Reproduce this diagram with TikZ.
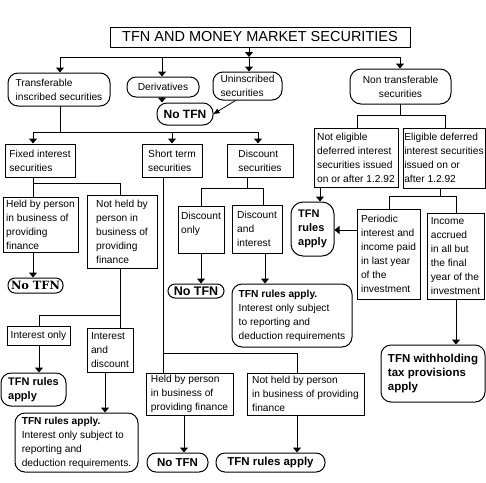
\documentclass[tikz,border=0pt]{standalone}
\usepackage{fontspec}
\setmainfont{Liberation Sans}
\newfontfamily\slabfont{DejaVu Serif}
\usetikzlibrary{arrows.meta}
\newcommand\mybox[6]{%
  \pgfmathsetmacro\bxw{#4-#2}%
  \pgfmathsetmacro\bxh{#5-#3}%
  \node[#6, minimum width=\bxw pt, minimum height=\bxh pt] (#1) at ({(#2+#4)/2},{(#3+#5)/2})}
\begin{document}
\begin{tikzpicture}[x=1pt,y=-1pt,
  base/.style={draw, line width=1pt, inner sep=0pt, align=left, font=\fontsize{10.2}{14}\selectfont},
  rnd/.style={base, rounded corners=#1},
  bld/.style={font=\fontsize{11}{14}\selectfont\bfseries},
  arr/.style={line width=1pt, line cap=rect, -{Triangle[width=8pt,length=5pt]}},
  sarr/.style={line width=0.8pt, -{Triangle[width=5pt,length=6pt]}},
  ln/.style={line width=1pt, line cap=rect}]
\fill[white] (0,0) rectangle (486,482);
\useasboundingbox (0,0) rectangle (486,482);

% ---- nodes ----
\mybox{title}{110}{27}{410}{47}{base, align=center, font=\fontsize{14.5}{17}\selectfont}{TFN AND MONEY MARKET SECURITIES};
\mybox{trans}{8}{73}{110}{106}{rnd=10pt}{Transferable\\inscribed securities};
\mybox{deriv}{127}{77}{199}{97}{rnd=9pt, align=center}{Derivatives};
\mybox{unins}{213}{72}{282}{100}{rnd=10pt}{Uninscribed\\securities};
\mybox{notfnA}{157}{103}{213}{125}{rnd=10pt, font=\fontsize{12}{14}\selectfont\bfseries}{No TFN};
\mybox{nontrans}{350}{69}{451}{104}{rnd=11pt, align=center}{Non transferable\\securities};
\mybox{fixed}{5}{144}{75}{177}{base}{Fixed interest\\securities};
\mybox{short}{142}{144}{202}{177}{base}{Short term\\securities};
\mybox{disc}{227}{144}{293}{177}{base}{Discount\\securities};
\mybox{notelig}{314}{128}{398}{187}{base}{Not eligible\\deferred interest\\securities issued\\on or after 1.2.92};
\mybox{elig}{403}{128}{485}{188}{base}{Eligible deferred\\interest securities\\issued on or\\after 1.2.92};
\mybox{heldA}{3}{197}{78}{252}{base}{Held by person\\in business of\\providing\\finance};
\mybox{notheldA}{87}{195}{157}{268}{base}{Not held by\\person in\\business of\\providing\\finance};
\mybox{notfnB}{8}{278}{63}{293}{rnd=7pt, font=\slabfont\fontsize{11.4}{14}\selectfont\bfseries}{No TFN};
\mybox{disconly}{178}{206}{224}{253}{base}{Discount\\only\\\mbox{}};
\mybox{discint}{232}{205}{282}{253}{base}{Discount\\and\\interest};
\mybox{tfnA}{291}{202}{334}{256}{rnd=12pt, bld}{TFN\\rules\\apply};
\mybox{periodic}{357}{209}{420}{299}{base}{Periodic\\interest and\\income paid\\in last year\\of the\\investment};
\mybox{income}{427}{213}{484}{299}{base}{Income\\accrued\\in all but\\the final\\year of the\\investment};
\mybox{notfnC}{168}{284}{224}{298}{rnd=7pt, font=\fontsize{12.5}{14}\selectfont\bfseries}{No TFN};
\mybox{tfnbigA}{232}{284}{352}{347}{rnd=10pt}{\textbf{TFN rules apply.}\\Interest only subject\\to reporting and\\deduction requirements};
\mybox{intonly}{7}{326}{70}{345}{base}{Interest only};
\mybox{intdisc}{87}{328}{133}{372}{base}{Interest\\and\\discount};
\mybox{tfnB}{1}{373}{66}{406}{rnd=10pt, bld}{TFN rules\\apply};
\mybox{tfnbigB}{15}{413}{138}{472}{rnd=10pt}{\textbf{TFN rules apply.}\\Interest only subject to\\reporting and\\deduction requirements.};
\mybox{tfnwith}{381}{345}{485}{402}{rnd=10pt, font=\fontsize{11.5}{14}\selectfont\bfseries}{TFN withholding\\tax provisions\\apply};
\mybox{heldB}{146}{373}{233}{415}{base}{Held by person\\in business of\\providing finance};
\mybox{notheldB}{247}{373}{364}{415}{base}{Not held by person\\in business of providing\\finance};
\mybox{notfnD}{147}{453}{208}{472}{rnd=9pt, font=\fontsize{11.5}{14}\selectfont\bfseries}{No TFN};
\mybox{tfnC}{216}{453}{325}{472}{rnd=9pt, font=\fontsize{11.5}{14}\selectfont\bfseries}{TFN rules apply};

% ---- top level ----
\coordinate (jT) at (249,57);
\coordinate (jTL) at (60,57);
\coordinate (jTD) at (162,57);
\coordinate (jTR) at (400,57);
\draw[arr] (title.south -| jT) -- (jT);
\draw[ln] (jTL) -- (jTR);
\draw[arr] (jTL) -- (trans.north -| jTL);
\draw[arr] (jTD) -- (deriv.north -| jTD);
\draw[arr] (jT) -- (unins.north -| jT);
\draw[arr] (jTR) -- (nontrans.north -| jTR);
\draw[arr] (deriv.south -| jTD) -- (notfnA.north -| jTD);
\draw[sarr] ([xshift=-12pt]unins.south) -- (notfnA.east);

% ---- transferable branch ----
\coordinate (jA) at (60,132);
\coordinate (jA1) at (33,132);
\coordinate (jA2) at (172,132);
\coordinate (jA3) at (258,132);
\draw[ln] (trans.south -| jA) -- (jA);
\draw[ln] (jA1) -- (jA3);
\draw[arr] (jA1) -- (fixed.north -| jA1);
\draw[arr] (jA2) -- (short.north -| jA2);
\draw[arr] (jA3) -- (disc.north -| jA3);

% fixed interest
\coordinate (jB1) at (33,183);
\coordinate (jB2) at (120,183);
\draw[ln] (fixed.south -| jB1) -- (jB1) -- (jB2) -- (notheldA.north -| jB2);
\draw[ln] (jB1) -- (heldA.north -| jB1);
\draw[arr] (heldA.south -| jB1) -- (notfnB.north -| jB1);
\coordinate (jC1) at (39,315);
\coordinate (jC2) at (120,315);
\draw[ln] (notheldA.south -| jC2) -- (jC2) -- (jC1) -- (intonly.north -| jC1);
\draw[ln] (jC2) -- (intdisc.north -| jC2);
\draw[arr] (intonly.south -| jC1) -- (tfnB.north -| jC1);
\coordinate (xD) at (105,0);
\draw[arr] (intdisc.south -| xD) -- (tfnbigB.north -| xD);

% short term
\coordinate (jE1) at (163,353);
\coordinate (jE2) at (297,353);
\draw[ln] (short.south -| jE1) -- (jE1) -- (jE2) -- (notheldB.north -| jE2);
\draw[ln] (jE1) -- (heldB.north -| jE1);
\coordinate (xF) at (184,0);
\draw[arr] (heldB.south -| xF) -- (notfnD.north -| xF);
\draw[arr] (notheldB.south -| jE2) -- (tfnC.north -| jE2);

% discount
\coordinate (jG) at (247,188);
\coordinate (jG1) at (201,188);
\coordinate (jG2) at (263,188);
\draw[ln] (disc.south -| jG) -- (jG);
\draw[ln] (jG1) -- (jG2);
\draw[ln] (jG1) -- (disconly.north -| jG1);
\draw[ln] (jG2) -- (discint.north -| jG2);
\draw[arr] (disconly.south -| jG1) -- (notfnC.north -| jG1);
\coordinate (xH) at (265,0);
\draw[arr] (discint.south -| xH) -- (tfnbigA.north -| xH);

% ---- non transferable branch ----
\coordinate (jI) at (400,115);
\coordinate (jI1) at (357,115);
\coordinate (jI2) at (445,115);
\draw[ln] (nontrans.south -| jI) -- (jI);
\draw[ln] (jI1) -- (jI2);
\draw[ln] (jI1) -- (notelig.north -| jI1);
\draw[ln] (jI2) -- (elig.north -| jI2);
\coordinate (xJ) at (320,0);
\draw[arr] (notelig.south -| xJ) -- (tfnA.north -| xJ);
\coordinate (jK) at (440,196);
\coordinate (jK1) at (389,196);
\coordinate (jK2) at (456,196);
\draw[ln] (elig.south -| jK) -- (jK);
\draw[ln] (jK1) -- (jK2);
\draw[ln] (jK1) -- (periodic.north -| jK1);
\draw[ln] (jK2) -- (income.north -| jK2);
\coordinate (yL) at (0,230);
\draw[arr] (periodic.west |- yL) -- (tfnA.east |- yL);
\draw[arr] (income.south -| jK2) -- (tfnwith.north -| jK2);
\end{tikzpicture}
\end{document}
